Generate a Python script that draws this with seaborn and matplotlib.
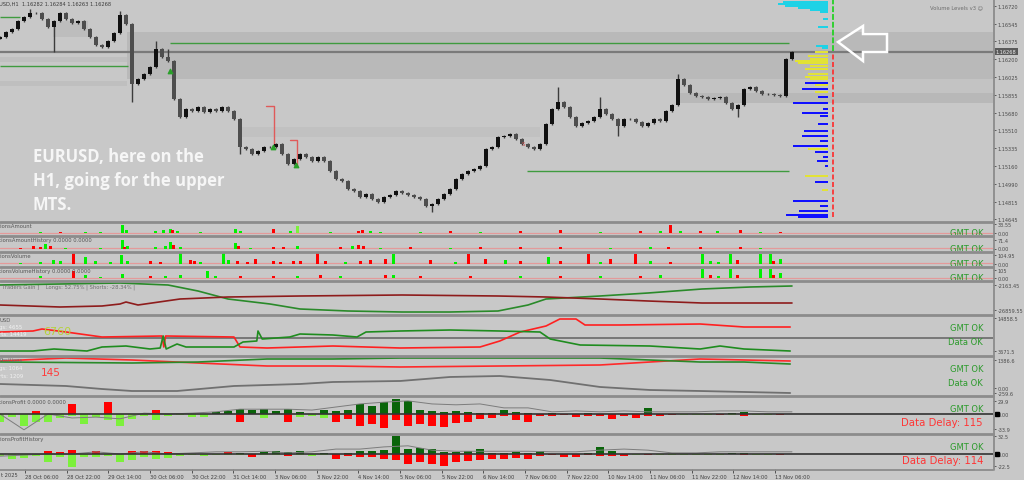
import numpy as np
import matplotlib
matplotlib.use("Agg")
import matplotlib.pyplot as plt
from matplotlib.lines import Line2D
from matplotlib.patches import Polygon, Rectangle
import seaborn as sns

# ---------------- data ----------------
# EURUSD H1 closes, one value per bar slot (27 Oct -> 13 Nov 2025)
closes = [
    1.16416, 1.16464, 1.16493, 1.16571, 1.16610, 1.16649, 1.16649, 1.16591, 1.16513, 1.16571,
    1.16649, 1.16591, 1.16552, 1.16571, 1.16493, 1.16416, 1.16338, 1.16318, 1.16377, 1.16454,
    1.16630, 1.16542, 1.15958, 1.16007, 1.16056, 1.16124, 1.16299, 1.16221, 1.16182, 1.15812,
    1.15637, 1.15715, 1.15696, 1.15735, 1.15686, 1.15715, 1.15696, 1.15735, 1.15696, 1.15618,
    1.15345, 1.15326, 1.15277, 1.15307, 1.15345, 1.15345, 1.15375, 1.15277, 1.15180, 1.15229,
    1.15277, 1.15248, 1.15209, 1.15248, 1.15209, 1.15112, 1.15034, 1.15015, 1.14937, 1.14917,
    1.14859, 1.14888, 1.14840, 1.14810, 1.14859, 1.14879, 1.14917, 1.14898, 1.14879, 1.14859,
    1.14840, 1.14772, 1.14791, 1.14840, 1.14888, 1.14937, 1.15034, 1.15083, 1.15112, 1.15131,
    1.15161, 1.15326, 1.15345, 1.15443, 1.15452, 1.15472, 1.15423, 1.15375, 1.15345, 1.15326,
    1.15375, 1.15569, 1.15715, 1.15783, 1.15735, 1.15637, 1.15550, 1.15579, 1.15598, 1.15637,
    1.15715, 1.15667, 1.15618, 1.15550, 1.15618, 1.15618, 1.15589, 1.15550, 1.15579, 1.15618,
    1.15598, 1.15696, 1.15754, 1.16007, 1.15949, 1.15871, 1.15842, 1.15832, 1.15812, 1.15822,
    1.15832, 1.15774, 1.15715, 1.15754, 1.15910, 1.15929, 1.15890, 1.15861, 1.15861, 1.15851,
    1.15842, 1.16202, 1.16268,
]
first_open = 1.16400
wick_idx = [5, 9, 20, 22, 26, 28, 40, 72, 93, 100, 103, 113, 123]
wick_px = [1.16688, 1.16270, 1.16669, 1.15783, 1.16377, 1.16299, 1.15277, 1.14713,
           1.15929, 1.15832, 1.15452, 1.16056, 1.15637]
last_price = 1.16268
price_ticks = [1.16720, 1.16545, 1.16375, 1.16200, 1.16025, 1.15855, 1.15680,
               1.15510, 1.15335, 1.15160, 1.14990, 1.14815, 1.14645]

# shaded zones: start slot, end slot, low, high
zone_x0 = [21.2, 0, 0, 8.8, 40, 113, 113]
zone_x1 = [165.5, 21.2, 21.2, 14.7, 90, 165.5, 165.5]
zone_lo = [1.16007, 1.16172, 1.15939, 1.16416, 1.15443, 1.15871, 1.15774]
zone_hi = [1.16464, 1.16221, 1.15988, 1.16571, 1.15540, 1.16007, 1.15871]
zone_col = ["#b9b9b9", "#bfbfbf", "#bfbfbf", "#bdbdbd", "#c1c1c1", "#c3c3c3", "#b8b8b8"]

# green levels
lvl_price = [1.16362, 1.16133, 1.16610, 1.15112]
lvl_x0 = [28.3, 0, 0, 87.8]
lvl_x1 = [131.5, 21.3, 3.3, 131.5]

# red brackets and signal marks
br_x0 = [44.3, 48.3]
br_x1 = [45.7, 49.5]
br_top = [1.15744, 1.15414]
br_bot = [1.15345, 1.15170]
sig_x = [45.5, 49.3, 28.3]
sig_p = [1.15345, 1.15170, 1.16085]

# volume profile (price, volume, colour code)
vp_price = [1.16756, 1.16737, 1.16717, 1.16698, 1.16678, 1.16659, 1.16591, 1.16513, 1.16328, 1.16309,
            1.16270, 1.16231, 1.16202, 1.16182, 1.16163, 1.16133, 1.16104, 1.16056, 1.16026, 1.16007,
            1.15968, 1.15949, 1.15910, 1.15880, 1.15832, 1.15774, 1.15715, 1.15676, 1.15647, 1.15569,
            1.15501, 1.15452, 1.15404, 1.15355, 1.15326, 1.15297, 1.15248, 1.15209, 1.15161, 1.15063,
            1.15005, 1.14927, 1.14820, 1.14772, 1.14723, 1.14684, 1.14665]
vp_vol = [45, 50, 43, 30, 18, 8, 5, 10, 12, 6,
          13, 20, 18, 33, 30, 18, 23, 20, 23, 18,
          23, 13, 26, 13, 10, 35, 5, 26, 8, 10,
          24, 26, 8, 35, 20, 13, 5, 11, 3, 23,
          13, 6, 35, 8, 29, 42, 30]
vp_col = "cccccccccc" + "yyyyyyyyyy" + "bybybbbbbb" + "bbbbybbbby" + "bybbbbb"

# transaction histograms (x in source px, value, colour code)
p1_x = [40, 60, 85, 100, 122, 126, 155, 163, 170, 172, 177, 200, 235, 240, 273, 290, 297, 330, 358, 362,
        370, 380, 420, 450, 480, 520, 560, 600, 640, 660, 670, 680, 700, 717, 740, 760, 780]
p1_v = [4.2, 4.2, 4.2, 4.2, 29.4, 12.6, 8.4, 12.6, 16.8, 12.6, 8.4, 4.2, 16.8, 8.4, 16.8, 8.4, 25.2, 4.2, 8.4, 12.6,
        8.4, 4.2, 4.2, 8.4, 4.2, 8.4, 12.6, 4.2, 8.4, 8.4, 29.4, 8.4, 8.4, 8.4, 12.6, 4.2, 4.2]
p1_c = "grgggggggr" + "ggggrglgrr" + "gggrgrrgrg" + "rgrgrgr"

p2_x = [20, 33, 40, 45, 50, 65, 100, 122, 124, 127, 155, 165, 170, 173, 180, 235, 238, 250, 273, 283,
        297, 340, 352, 358, 363, 380, 410, 450, 480, 520, 560, 610, 650, 668, 700, 740, 760]
p2_v = [8.4, 25.2, 16.8, 42, 25.2, 8.4, 8.4, 75.6, 16.8, 25.2, 16.8, 25.2, 58.8, 33.6, 16.8, 50.4, 25.2, 8.4, 16.8, 16.8,
        25.2, 16.8, 25.2, 33.6, 25.2, 8.4, 16.8, 8.4, 16.8, 16.8, 16.8, 8.4, 16.8, 16.8, 16.8, 16.8, 8.4]
p2_c = "rrrgrgggrg" + "gggrggrgrr" + "grgrrgrgrr" + "rggrrrg"

p3_x = [20, 40, 53, 60, 73, 85, 95, 110, 121, 127, 150, 160, 180, 190, 194, 200, 223, 228, 237, 247,
        255, 273, 280, 293, 300, 317, 325, 345, 360, 370, 385, 393, 430, 455, 468, 485, 505, 520, 548, 560,
        588, 600, 610, 635, 650, 670, 702, 710, 718, 730, 737, 760, 770, 773, 780]
p3_v = [12.3, 24.6, 49.2, 36.9, 125, 86.1, 36.9, 24.6, 110.7, 36.9, 36.9, 24.6, 125, 49.2, 36.9, 24.6, 125, 49.2, 36.9, 24.6,
        61.5, 36.9, 24.6, 36.9, 36.9, 125, 36.9, 24.6, 36.9, 49.2, 61.5, 115, 49.2, 24.6, 115, 61.5, 49.2, 36.9, 86.1, 36.9,
        115, 24.6, 61.5, 115, 36.9, 24.6, 115, 36.9, 24.6, 115, 49.2, 115, 115, 36.9, 61.5]
p3_c = "ggggrggggg" + "rrgrrgggrr" + "rrrrrrrgrr" + "rgrgrrgrgr" + "rgrrgrgggg" + "rggrg"

p4_x = [40, 73, 85, 100, 122, 150, 165, 180, 207, 215, 240, 273, 297, 320, 340, 385, 393, 420, 470, 520,
        560, 600, 640, 660, 702, 710, 718, 730, 737, 760, 770, 773, 780]
p4_v = [26.2, 91.7, 39.3, 13.1, 52.4, 26.2, 26.2, 39.3, 91.7, 26.2, 26.2, 26.2, 26.2, 39.3, 26.2, 39.3, 39.3, 26.2, 26.2, 26.2,
        26.2, 26.2, 26.2, 39.3, 118, 39.3, 26.2, 118, 39.3, 118, 118, 39.3, 65.5]
p4_c = "grgggrgggg" + "rrgrgrgrrg" + "rgrggrggrg" + "grg"

# traders gain panel (x in bar slots)
p5_gx = [0, 10, 20, 28, 33, 38, 45, 50, 58, 67, 75, 83, 88, 91, 100, 108, 117, 125, 132]
p5_green = [-2163, -1175, -187, -2163, -8091, -15995, -20935, -25875, -27851, -28839, -28839, -27851,
            -21923, -15995, -13031, -10067, -6115, -4139, -3151]
p5_rx = [0, 5, 10, 17, 20, 21, 23, 30, 38, 50, 67, 83, 91, 100, 108, 117, 132]
p5_red = [-21923, -22911, -23899, -22911, -20935, -18959, -21923, -15995, -14019, -13031, -12043,
          -13031, -14019, -15995, -17971, -19947, -19947]

# USD panel
p6_rx = [0, 5.5, 7, 11, 17, 27, 27.3, 27.6, 39, 40, 44.5, 55.5, 66.7, 80, 83.3, 86.7, 91, 93.3, 96, 97.5,
         103.3, 116.7, 124, 131.7]
p6_red = [10112, 10451, 11129, 10112, 8417, 8756, 5027, 8756, 8417, 5027, 4688, 5366, 4688, 5027, 7061,
          10112, 12146, 14519, 14519, 12485, 12485, 12824, 11807, 11807]
p6_gx = [0, 5.5, 9, 14.5, 17, 21, 25, 26.7, 27.2, 27.7, 29.5, 31, 39, 40.5, 42.8, 43, 43.7, 48.3, 50, 55.5,
         59.5, 61, 66.7, 75, 83.3, 90, 91.7, 96.7, 108.3, 116.7, 120, 124, 131.7]
p6_green = [3671, 3671, 4349, 3671, 5027, 5366, 4349, 4688, 8756, 4349, 6044, 5027, 5027, 6722, 7061, 10451,
            7739, 8417, 9434, 9095, 8417, 10112, 10451, 10790, 10451, 10112, 7739, 5705, 5366, 4349, 5366,
            4349, 3671]
p6_level = 8078

# positions panel
p7_rx = [0, 11, 22, 33, 44.5, 55.5, 66.7, 83.3, 100, 116.7, 131.7]
p7_red = [1337, 1485, 1386, 1238, 1089, 1089, 1040, 1089, 1139, 1436, 1337]
p7_gx = [0, 22, 33, 44.5, 55.5, 66.7, 83.3, 100, 108.3, 116.7, 124, 131.7]
p7_green = [1287, 1238, 1287, 1436, 1436, 1485, 1485, 1485, 1386, 1287, 1287, 1188]
p7_kx = [0, 11, 17, 22, 29.5, 39, 50, 55.5, 66.7, 75, 83.3, 91.7, 100, 108.3, 116.7, 131.7]
p7_gray = [198, 99, -50, -149, -149, 99, 198, 297, 347, 545, 594, 396, 50, -99, -149, -248]

# profit histograms, one bar every 2 slots
p8_up = [0, 0, 0, 6.8, 0, 0, 22.8, 0, 0, 27.4, 0, 0, 0, 9.1, 0, 0, 0, 0, 4.6, 6.8, 11.4, 9.1, 11.4, 6.8,
         11.4, 4.6, 0, 9.1, 6.8, 9.1, 22.8, 18.2, 27.4, 34.2, 29.6, 9.1, 6.8, 4.6, 6.8, 4.6, 2.3, 2.3, 9.1,
         4.6, 2.3, 0, 2.3, 0, 0, 2.3, 0, 0, 0, 0, 13.7, 0, 0, 0, 0, 0, 0, 2.3, 4.6, 0, 0, 0]
p8_up_c = "dddrddrddrdddr" + "d" * 52
p8_dn = [-18.2, -6.8, -27.4, -18.2, -18.2, -9.1, -4.6, -22.8, -6.8, -13.7, -27.4, -11.4, -4.6, -13.7, -4.6,
         -2.3, -6.8, -6.8, 0, 0, -18.2, 0, -9.1, 0, -18.2, -6.8, -4.6, -9.1, -18.2, -11.4, -27.4, -22.8,
         -31.9, -13.7, -27.4, -22.8, -27.4, -29.6, -20.5, -18.2, -11.4, -9.1, -4.6, -13.7, -18.2, -4.6,
         -4.6, -2.3, -6.8, -4.6, -4.6, -11.4, -4.6, -9.1, -4.6, -4.6, -2.3, -2.3, -2.3, -2.3, -2.3, -2.3,
         -4.6, -2.3, -2.3, -2.3]
p8_dn_c = "l" * 20 + "r" + "lll" + "r" + "lll" + "r" * 29 + "lll" + "r" + "l" + "r" + "ll" + "r"
p8_line = [0, -36, 0, -9, -7, -11, 2, 0, 2, 5, 11, 11, 11, 9, 16, 23, 27, 30, 23, 21, 23, 14, 14, 5,
           7, 5, 7, 5, 5, 5, 7, 7, 5, 5]

p9_up = [0, 0, 0, 0, 5.5, 3.7, 7.3, 0, 5.5, 0, 0, 5.5, 5.5, 5.5, 3.7, 0, 0, 0, 0, 3.7, 1.8, 0, 3.7, 5.5,
         3.7, 5.5, 0, 1.8, 0, 1.8, 5.5, 5.5, 7.3, 32.9, 9.2, 11, 9.2, 3.7, 3.7, 5.5, 9.2, 1.8, 1.8, 3.7,
         1.8, 5.5, 0, 0, 0, 1.8, 12.8, 5.5, 0, 0, 0, 0, 0, 0, 0, 0, 0, 1.8, 1.8, 0, 0, 0]
p9_up_c = "ddddrrrdrddrrrrddddr" + "d" * 46
p9_dn = [-3.7, -9.2, -7.3, -3.7, -14.6, -5.5, -23.8, -5.5, -5.5, -3.7, -14.6, -11, -5.5, -9.2, -7.3, -3.7,
         -1.8, -3.7, -1.8, -1.8, -1.8, -5.5, -1.8, -1.8, -3.7, -1.8, -3.7, -1.8, -9.2, -3.7, -5.5, -5.5,
         -9.2, -11, -18.3, -14.6, -18.3, -22, -14.6, -12.8, -11, -9.2, -9.2, -7.3, -9.2, -3.7, -1.8, -5.5,
         -5.5, -1.8, -3.7, -3.7, -3.7, -1.8, -1.8, -1.8, -1.8, -1.8, -1.8, -1.8, -1.8, 0, -1.8, -1.8, -1.8,
         -1.8]
p9_dn_c = "l" * 21 + "r" + "ll" + "r" + "lll" + "r" * 25 + "l" + "r" + "l" * 7 + "r" + "ll" + "r"
p9_line = [-4, -2, 0, 0, 4, 0, 4, 0, 2, 4, 4, 5, 2, 4, 9, 9, 13, 15, 7, 5, 5, 5, 5, 4, 4, 7, 9, 7, 2, 2,
           4, 4, 4, 4]

# time axis (tick x in source px)
tick_px = [25, 67, 108, 150, 192, 233, 275, 317, 358, 400, 442, 483, 525, 567, 608, 650, 692, 733, 775]
tick_lbl = ["28 Oct 06:00", "28 Oct 22:00", "29 Oct 14:00", "30 Oct 06:00", "30 Oct 22:00",
            "31 Oct 14:00", "3 Nov 06:00", "3 Nov 22:00", "4 Nov 14:00", "5 Nov 06:00", "5 Nov 22:00",
            "6 Nov 14:00", "7 Nov 06:00", "7 Nov 22:00", "10 Nov 14:00", "11 Nov 06:00",
            "11 Nov 22:00", "12 Nov 14:00", "13 Nov 06:00"]

# ---------------- layout ----------------
W, H, DPI = 1024, 481, 100
SLOT = 6.0          # source pixels per bar slot
RIGHT = 993         # px where the price scale begins
XMAX = RIGHT / SLOT
BG = "#c8c8c8"
COLS = {"g": "#00f000", "l": "#7cf03c", "r": "#ff0000", "d": "#0a640a",
        "c": "#1ed2e6", "y": "#e2e236", "b": "#1010ff"}

sns.set_theme(style="white", rc={"figure.facecolor": BG, "axes.facecolor": BG})
plt.rcParams["font.family"] = ["DejaVu Sans"]


def fx(px):
    return px / W


def fy(py):
    return 1 - py / H


fig = plt.figure(figsize=(W / DPI, H / DPI), dpi=DPI)


def panel(y0, y1, ylim, ticks, labels):
    ax = fig.add_axes([0, fy(y1), fx(RIGHT), (y1 - y0) / H])
    ax.set_facecolor(BG)
    for s in ax.spines.values():
        s.set_visible(False)
    ax.set_xlim(0, XMAX)
    ax.set_ylim(*ylim)
    ax.tick_params(axis="x", bottom=False, labelbottom=False)
    ax.yaxis.tick_right()
    ax.set_yticks(ticks)
    ax.set_yticklabels(labels)
    ax.tick_params(axis="y", length=2, width=0.6, pad=1.5, labelsize=3.6, colors="#4a4a4a")
    return ax


def ftext(px, py, s, **kw):
    kw.setdefault("va", "center")
    kw.setdefault("fontsize", 3.8)
    fig.text(fx(px), fy(py), s, **kw)


# ---- main price panel ----
ax0 = panel(0, 222, (1.14626, 1.167852), price_ticks, ["%.5f" % p for p in price_ticks])
for x0, x1, lo, hi, c in zip(zone_x0, zone_x1, zone_lo, zone_hi, zone_col):
    ax0.add_patch(Rectangle((x0, lo), x1 - x0, hi - lo, color=c, lw=0, zorder=0.5))

ax0.axhline(last_price, color="#7a7a7a", lw=1.6, zorder=1)
ax0.hlines(lvl_price, lvl_x0, lvl_x1, color="#3f9b3f", lw=1, zorder=1.2)

idx = np.arange(len(closes))
opens = np.array([first_open] + closes[:-1])
cl = np.array(closes)
lows = np.minimum(opens, cl) - 0.00008
highs = np.maximum(opens, cl) + 0.00008
for i, p in zip(wick_idx, wick_px):
    if p > highs[i]:
        highs[i] = p
    else:
        lows[i] = p
body = np.maximum(np.abs(cl - opens), 0.00004)
colors = np.where(cl >= opens, "#111111", "#4e4e4e")
ax0.vlines(idx, lows, highs, color="#3c3c3c", lw=1.0, zorder=2)
ax0.bar(idx, body, bottom=np.minimum(opens, cl), width=0.75, color=colors, lw=0, zorder=3)

for x0, x1, t, b in zip(br_x0, br_x1, br_top, br_bot):
    ax0.plot([x0, x1, x1], [t, t, b], color="#e05a5a", lw=1, zorder=2.5)
ax0.scatter(sig_x, sig_p, marker="^", s=10, color="#2aa02a", zorder=4)
ax0.text(87.2, 1.15375, "S", color="#d05050", fontsize=4, ha="center", va="center", zorder=4)

# volume profile column
ax_vp = fig.add_axes([fx(770), fy(222), fx(58), 222 / H], sharey=ax0)
ax_vp.set_facecolor("none")
ax_vp.axis("off")
ax_vp.barh(vp_price, vp_vol, height=0.00016, color=[COLS[c] for c in vp_col], lw=0)
ax_vp.set_xlim(58, 0)
ax0.vlines(833 / SLOT, last_price + 0.00015, 1.16785, color="#30d030", lw=1.4, ls=(0, (3, 1)))
ax0.vlines(833 / SLOT, 1.14665, last_price - 0.00020, color="#ff2a2a", lw=1.2, ls=(0, (3, 1.5)))

# price box on the scale
ftext(996, 52.5, "%.5f" % last_price, fontsize=3.6, color="#eeeeee",
      bbox=dict(fc="#5a5a5a", ec="none", pad=0.6))

# arrow
arrow = [(838, 43), (863, 27), (863, 35), (887, 35), (887, 53), (863, 53), (863, 62)]
fig.add_artist(Polygon([(fx(a), fy(b)) for a, b in arrow], closed=True, fill=False,
                       ec="white", lw=1.8, transform=fig.transFigure))

ftext(-1, 4, "USD,H1  1.16282 1.16284 1.16263 1.16268", color="#3c3c3c", fontsize=3.7)
ftext(983, 8, "Volume Levels v3 \u263a", ha="right", color="#6e6e6e", fontsize=3.8)
ftext(33, 181, "EURUSD, here on the\nH1, going for the upper\nMTS.", color="#f6f6f6",
      fontsize=12, family=["Open Sans", "DejaVu Sans"], weight="bold", linespacing=1.43)


# ---- transaction histograms ----
def hist_panel(y0, y1, ylim, ticks, labels, xs, vals, cols, name):
    ax = panel(y0, y1, ylim, ticks, labels)
    assert len(xs) == len(vals) == len(cols)
    ax.axhline(ylim[1] * 0.04, color="#e39a9a", lw=0.9, zorder=1)
    ax.bar(np.array(xs) / SLOT, vals, width=0.5, color=[COLS[c] for c in cols], lw=0, zorder=2)
    ftext(-1, y0 + 3, name, color="#555555", fontsize=3.8)
    ax.text(fx(983), fy(y1 - 2), "GMT OK", transform=fig.transFigure, ha="right", va="center",
            color="#2b9a2b", fontsize=6, clip_on=True)
    return ax


hist_panel(224, 236, (-6, 37), [33.55, 0], ["33.55", "0.00"], p1_x, p1_v, p1_c, "tionsAmount")
hist_panel(238, 252, (-21, 96.6), [71.4, 0], ["71.4", "0.00"], p2_x, p2_v, p2_c,
           "tionsAmountHistory 0.0000 0.0000")
hist_panel(254, 267, (-30.8, 129.6), [104.95, 0], ["104.95", "0.00"], p3_x, p3_v, p3_c, "tionsVolume")
hist_panel(269, 281, (-26, 131), [105, 0], ["105", "0.00"], p4_x, p4_v, p4_c,
           "tionsVolumeHistory 0.0000 0.0000")

# ---- traders gain ----
ax5 = panel(283, 315, (-30815, 800), [-2163.45, -26859.55], ["-2163.45", "-26859.55"])
sns.lineplot(x=p5_gx, y=p5_green, ax=ax5, color="#2a8a2a", lw=1.2)
sns.lineplot(x=p5_rx, y=p5_red, ax=ax5, color="#8e1c1c", lw=1.2)
ftext(-1, 287, "l Traders Gain ]    Longs: 52.75% | Shorts: -28.34% |", color="#707070")

# ---- USD panel ----
ax6 = panel(317, 356, (2316, 15536), [14858.5, 3671.5], ["14858.5", "3671.5"])
ax6.axhline(p6_level, color="#6a6a6a", lw=1.2)
sns.lineplot(x=p6_rx, y=p6_red, ax=ax6, color="#ff2020", lw=1.2)
sns.lineplot(x=p6_gx, y=p6_green, ax=ax6, color="#1f8c1f", lw=1.2)
ftext(-1, 320, "USD", color="#5a5a5a")
ftext(-1, 328, "gs: 4655", color="#f2f2f2", fontsize=3.9)
ftext(-1, 335, "rts: 14419", color="#f2f2f2", fontsize=3.9)
ftext(43, 332, "6760", color="#b6d23a", fontsize=8)
ftext(983, 329, "GMT OK", ha="right", color="#2b9a2b", fontsize=6)
ftext(983, 343, "Data OK", ha="right", color="#2b9a2b", fontsize=6)

# ---- positions panel ----
ax7 = panel(358, 396, (-347, 1535), [1386.6, 0, -259.6], ["1386.6", "0.00", "-259.6"])
sns.lineplot(x=p7_rx, y=p7_red, ax=ax7, color="#ff2a2a", lw=1.2)
sns.lineplot(x=p7_gx, y=p7_green, ax=ax7, color="#2a8a2a", lw=1.2)
sns.lineplot(x=p7_kx, y=p7_gray, ax=ax7, color="#707070", lw=1.3)
ftext(-1, 361, "Positions", color="#6a6a6a")
ftext(-1, 369, "gs: 1064", color="#f2f2f2", fontsize=3.9)
ftext(-1, 377, "rts: 1209", color="#f2f2f2", fontsize=3.9)
ftext(41, 373, "145", color="#ff3b3b", fontsize=7.5)
ftext(983, 370, "GMT OK", ha="right", color="#2b9a2b", fontsize=6)
ftext(983, 384, "Data OK", ha="right", color="#2b9a2b", fontsize=6)


# ---- profit histograms ----
def profit_panel(y0, y1, ylim, ticks, labels, up, upc, dn, dnc, line, name, delay):
    ax = panel(y0, y1, ylim, ticks, labels)
    assert len(up) == len(upc) == len(dn) == len(dnc) == 66
    xs = np.arange(len(up)) * 2
    ax.bar(xs, up, width=1.2, color=[COLS[c] for c in upc], lw=0, zorder=2)
    ax.bar(xs, dn, width=1.2, color=[COLS[c] for c in dnc], lw=0, zorder=2)
    sns.lineplot(x=np.arange(len(line)) * 4, y=line, ax=ax, color="#7c7c7c", lw=0.7, zorder=3)
    ax.axhline(0, color="#333333", lw=1.2, zorder=4)
    ax.plot([XMAX + 0.6], [0], marker="s", ms=2.6, color="black", clip_on=False)
    ftext(-1, y0 + 4, name, color="#555555")
    ftext(983, y0 + 12, "GMT OK", ha="right", color="#2b9a2b", fontsize=6)
    ftext(983, y0 + 25, delay, ha="right", color="#ff3535", fontsize=7.3)
    return ax


profit_panel(398, 434, (-43.3, 38.8), [29.9, 0, -33.9], ["29.9", "0.00", "-33.9"],
             p8_up, p8_up_c, p8_dn, p8_dn_c, p8_line, "tionsProfit 0.0000 0.0000", "Data Delay: 115")
ax9 = profit_panel(436, 470, (-27.5, 34.8), [32.5, 0, -22.5], ["32.5", "0.00", "-22.5"],
                   p9_up, p9_up_c, p9_dn, p9_dn_c, p9_line, "tionsProfitHistory", "Data Delay: 114")
ax9.set_xticks(np.array(tick_px) / SLOT)
ax9.set_xticklabels(tick_lbl)
ax9.tick_params(axis="x", bottom=True, labelbottom=True, length=3, width=0.6, pad=0.8,
                labelsize=3.7, colors="#404040")
for lbl in ax9.get_xticklabels():
    lbl.set_ha("left")
ftext(1, 476, "t 2025", color="#404040", fontsize=3.7)

# ---- separators and scale border ----
for y in [223, 237, 253, 268, 282, 316, 357, 397, 435]:
    fig.add_artist(Line2D([0, fx(RIGHT)], [fy(y), fy(y)], color="#8c8c8c", lw=2))
fig.add_artist(Line2D([0, fx(RIGHT)], [fy(470.5), fy(470.5)], color="#8c8c8c", lw=1.3))
fig.add_artist(Line2D([fx(RIGHT + 0.5), fx(RIGHT + 0.5)], [fy(0), fy(470.5)], color="#8c8c8c", lw=1.3))

fig.savefig("out.png", dpi=DPI, facecolor=BG)
